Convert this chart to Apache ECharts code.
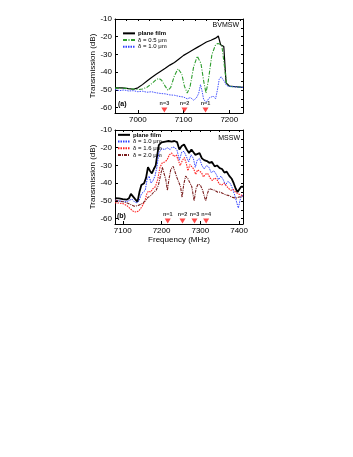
<!DOCTYPE html>
<html>
<head>
<meta charset="utf-8">
<script src="https://cdn.jsdelivr.net/npm/echarts@6/dist/echarts.min.js"></script>
<style>
html,body{margin:0;padding:0;background:#fff;}
#chart{width:353px;height:457px;}
</style>
</head>
<body>
<div id="chart"></div>
<script>
// (a) BVMSW
var bvPlaneFreq = [6950,6965,6980,6990,7000,7010,7020,7030,7040,7050,7060,7070,7080,7090,7100,7110,7120,7130,7140,7150,7160,7170,7176,7179,7181,7185,7188,7191,7193,7200,7215,7230];
var bvPlaneDb   = [-48.8,-48.8,-49.3,-49.6,-48.8,-47,-45,-43,-41.2,-39.5,-37.8,-36,-34.5,-32.5,-30.5,-29,-27.5,-26,-24.5,-23,-22,-20.8,-19.6,-19.8,-24.5,-25,-25.5,-38,-46,-47.8,-48.2,-48.6];
var bv05Freq = [6950,6970,6990,7000,7010,7020,7030,7040,7046,7052,7060,7066,7072,7080,7088,7096,7102,7108,7114,7122,7130,7138,7144,7149,7154,7162,7170,7175,7180,7184,7188,7191,7194,7200,7215,7230];
var bv05Db   = [-49,-49,-49.5,-49.8,-49.5,-48.5,-46.5,-44.2,-43.5,-44.5,-48,-50.2,-48.5,-42,-38,-41,-48,-51.7,-48.5,-37,-31,-35,-45,-51.7,-45,-30,-24.5,-23.8,-24.2,-25.5,-26,-40,-46.5,-48,-48.3,-48.6];
var bv10Freq = [6950,6960,6970,6980,6990,7000,7010,7020,7030,7040,7050,7060,7070,7080,7090,7100,7108,7115,7122,7128,7133,7137,7140,7144,7150,7156,7160,7165,7170,7174,7178,7182,7186,7190,7194,7200,7215,7230];
var bv10Db   = [-49.8,-50.4,-50,-50.6,-50.4,-51,-50.7,-51.3,-51,-51.6,-52,-52.2,-52.8,-53,-53.6,-54,-55,-54.3,-55.8,-54.5,-52,-47,-50,-55.5,-56.8,-54.5,-55.5,-53.5,-55,-50,-44,-42.5,-43,-45.5,-47.5,-48,-48.3,-48.6];
var bvModeFreq = [7058, 7102, 7148];
var bvModeText = ['n=3', 'n=2', 'n=1'];

// (b) MSSW
var msPlaneFreq = [7080,7090,7100,7110,7116,7121,7126,7132,7138,7143,7148,7155,7160,7165,7170,7175,7180,7185,7189,7193,7200,7210,7218,7226,7233,7240,7246,7252,7258,7265,7271,7277,7282,7287,7292,7298,7304,7310,7317,7323,7330,7337,7343,7350,7356,7362,7368,7375,7381,7386,7391,7396,7400,7405,7410];
var msPlaneDb   = [-48.4,-48.6,-49,-49.3,-48.5,-46,-46.5,-49,-50.5,-45,-41,-40,-37,-31,-33,-34.5,-32,-30,-24,-18.5,-17,-16.5,-16.2,-16.5,-16.2,-16.8,-21,-19,-18.2,-21,-23,-21,-21.5,-24,-23.5,-23,-26,-27,-27.5,-28.5,-28,-30.5,-30,-31.5,-32,-34,-33.5,-36,-37.5,-40,-43,-45,-44,-42,-42];
var ms10Freq = [7080,7090,7100,7110,7118,7124,7130,7136,7142,7148,7153,7158,7163,7168,7173,7178,7183,7188,7193,7200,7208,7215,7222,7228,7235,7240,7246,7252,7258,7264,7270,7276,7282,7287,7292,7298,7304,7310,7316,7322,7328,7335,7341,7347,7353,7359,7365,7371,7377,7383,7389,7394,7398,7402,7406,7410];
var ms10Db   = [-49.5,-50,-50.2,-50.5,-49.5,-49,-50.5,-51,-50,-46,-45,-44,-37.5,-36,-40,-38.5,-36,-31,-23,-20.5,-21,-20,-21,-19.5,-20,-21.5,-27,-22.5,-22,-25,-28,-24,-26,-31,-27,-26,-30,-32,-30,-31,-34,-33,-35,-38,-36,-38,-41,-39,-40,-43,-47,-51,-54,-50,-47,-47];
var ms16Freq = [7080,7090,7100,7110,7120,7128,7135,7142,7150,7157,7162,7166,7172,7178,7184,7190,7196,7202,7208,7214,7220,7226,7232,7238,7243,7248,7254,7259,7264,7268,7273,7278,7283,7288,7293,7298,7303,7308,7313,7319,7325,7331,7337,7343,7349,7355,7361,7367,7373,7379,7385,7391,7397,7403,7410];
var ms16Db   = [-51,-51.2,-51.5,-52.5,-54.5,-56,-56.3,-55.5,-53,-50,-46,-44.5,-45,-43,-42,-38,-31,-28.5,-28,-27,-24,-23,-25,-24,-24,-30,-27,-25.5,-29,-33,-29.5,-29,-32,-35,-32.5,-31.5,-34,-36.5,-35,-34.5,-37,-38.5,-37,-38,-40.5,-41,-40,-41.5,-43,-44,-43.5,-45,-46,-46.5,-47];
var ms20Freq = [7080,7090,7100,7110,7120,7130,7140,7150,7158,7165,7172,7180,7186,7192,7197,7202,7207,7211,7215,7219,7224,7230,7235,7240,7244,7249,7253,7257,7262,7268,7273,7278,7284,7289,7294,7300,7306,7311,7314,7318,7323,7330,7337,7344,7350,7357,7365,7374,7383,7392,7400,7410];
var ms20Db   = [-49.5,-50,-50.5,-51,-52,-53,-52.5,-51.5,-50,-48,-47,-45,-44,-41,-36,-31,-31.5,-38,-44,-38,-32,-30.5,-31.5,-37,-36,-42,-48,-41,-36,-37.5,-38,-42,-50,-43,-40.5,-41,-44,-48,-50,-46,-43,-43.5,-44,-45,-45,-45.7,-46.5,-47,-48,-48.4,-47.8,-47.5];
var msModeFreq = [7216, 7254, 7285, 7315];
var msModeText = ['n=1', 'n=2', 'n=3', 'n=4'];

var yTicks = [-60, -50, -40, -30, -20, -10];
var yMinor = [-60, -55, -50, -45, -40, -35, -30, -25, -20, -15, -10];
var bvTicks = [7000, 7100, 7200];
var msTicks = [7100, 7200, 7300, 7400];

function pairs(xs, ys) {
	var out = [];
	for (var i = 0; i < xs.length; i++) {
		out.push([xs[i], ys[i]]);
	}
	return out;
}
function stepTicks(min, max, step) {
	var out = [];
	for (var v = Math.ceil(min / step) * step; v <= max; v += step) out.push(v);
	return out;
}
function plain(v) { return String(v); }

var font = 'Liberation Sans, Arial, sans-serif';
var bvMin = 6950, bvMax = 7230, msMin = 7080, msMax = 7410;

function xAxes(idx, min, max, ticks, name) {
	return [{
		gridIndex: idx, type: 'value', min: min, max: max, position: 'bottom',
		splitLine: {show: false},
		axisLine: {lineStyle: {color: '#000', width: 1}},
		axisTick: {inside: true, length: 3, customValues: ticks, lineStyle: {color: '#000'}},
		axisLabel: {customValues: ticks, formatter: plain, color: '#000', fontSize: 8, fontFamily: font, margin: 3},
		name: name, nameLocation: 'middle', nameGap: 11,
		nameTextStyle: {color: '#000', fontSize: 8, fontFamily: font}
	}, {
		gridIndex: idx, type: 'value', min: min, max: max, position: 'top',
		splitLine: {show: false},
		axisLine: {lineStyle: {color: '#000', width: 1}},
		axisTick: {inside: true, length: 2, customValues: stepTicks(min, max, 25), lineStyle: {color: '#000'}},
		axisLabel: {show: false}
	}];
}
function yAxes(idx) {
	return [{
		gridIndex: idx, type: 'value', min: -63, max: -10, position: 'left',
		splitLine: {show: false},
		axisLine: {show: true, lineStyle: {color: '#000', width: 1}},
		axisTick: {show: true, inside: true, length: 3, customValues: yTicks, lineStyle: {color: '#000'}},
		axisLabel: {customValues: yTicks, formatter: plain, color: '#000', fontSize: 8, fontFamily: font, margin: 3},
		name: 'Transmission (dB)', nameLocation: 'middle', nameGap: 13,
		nameTextStyle: {color: '#000', fontSize: 8, fontFamily: font}
	}, {
		gridIndex: idx, type: 'value', min: -63, max: -10, position: 'right',
		splitLine: {show: false},
		axisLine: {show: true, lineStyle: {color: '#000', width: 1}},
		axisTick: {show: true, inside: true, length: 2, customValues: yMinor, lineStyle: {color: '#000'}},
		axisLabel: {show: false}
	}];
}

function curve(name, xi, yi, data, color, width, type) {
	return {
		name: name, type: 'line', xAxisIndex: xi, yAxisIndex: yi, data: data,
		showSymbol: false, symbol: 'none', animation: false,
		lineStyle: {color: color, width: width, type: type},
		itemStyle: {color: color}, z: 3
	};
}
function modes(xi, yi, freqs, texts) {
	var data = [];
	for (var i = 0; i < freqs.length; i++) {
		data.push({value: [freqs[i], -61.3], label: {formatter: texts[i]}});
	}
	return {
		type: 'scatter', xAxisIndex: xi, yAxisIndex: yi, data: data,
		symbol: 'triangle', symbolRotate: 180, symbolSize: [6, 5],
		itemStyle: {color: '#ff1a1a'}, animation: false, z: 5,
		label: {show: true, position: 'top', distance: 1, color: '#000', fontSize: 5.5, fontWeight: 'bold', fontFamily: font}
	};
}

var legendBase = {
	orient: 'vertical', itemGap: 0, itemWidth: 12, itemHeight: 6.7, padding: 0,
	itemStyle: {color: 'rgba(0,0,0,0)', borderColor: 'rgba(0,0,0,0)', borderWidth: 0},
	textStyle: {fontSize: 6, lineHeight: 6.7, fontFamily: font, color: '#000', padding: [0, 0, 0, -2]}
};

var myChart = echarts.init(document.getElementById('chart'));
var option = {
	backgroundColor: '#fff',
	animation: false,
	grid: [
		{left: 115, top: 19, width: 128, height: 94},
		{left: 115, top: 130, width: 128, height: 94}
	],
	xAxis: xAxes(0, bvMin, bvMax, bvTicks, '').concat(xAxes(1, msMin, msMax, msTicks, 'Frequency (MHz)')),
	yAxis: yAxes(0).concat(yAxes(1)),
	legend: [
		Object.assign({}, legendBase, {
			left: 122, top: 30,
			data: [{name: 'plane film', textStyle: {fontWeight: 'bold'}}, 'δ = 0.5 μm', 'δ = 1.0 μm']
		}),
		Object.assign({}, legendBase, {
			left: 117, top: 131.5,
			data: [{name: 'plane film ', textStyle: {fontWeight: 'bold'}}, 'δ = 1.0 μm ', 'δ = 1.6 μm', 'δ = 2.0 μm']
		})
	],
	graphic: [
		{type: 'text', right: 114, top: 22, style: {text: 'BVMSW', fontSize: 7, fontFamily: font, fill: '#000'}},
		{type: 'text', left: 118, top: 101, style: {text: '(a)', fontSize: 7, fontWeight: 'bold', fontFamily: font, fill: '#000'}},
		{type: 'text', right: 113, top: 135, style: {text: 'MSSW', fontSize: 7, fontFamily: font, fill: '#000'}},
		{type: 'text', left: 117, top: 213, style: {text: '(b)', fontSize: 7, fontWeight: 'bold', fontFamily: font, fill: '#000'}}
	],
	series: [
		curve('plane film', 0, 0, pairs(bvPlaneFreq, bvPlaneDb), '#000', 1.2, 'solid'),
		curve('δ = 0.5 μm', 0, 0, pairs(bv05Freq, bv05Db), '#2e9e2e', 1.1, [4, 1.5, 1, 1.5]),
		curve('δ = 1.0 μm', 0, 0, pairs(bv10Freq, bv10Db), '#3040ff', 0.9, [1.5, 1]),
		modes(0, 0, bvModeFreq, bvModeText),
		curve('plane film ', 2, 2, pairs(msPlaneFreq, msPlaneDb), '#000', 1.8, 'solid'),
		curve('δ = 1.0 μm ', 2, 2, pairs(ms10Freq, ms10Db), '#3040ff', 1, [1.5, 1]),
		curve('δ = 1.6 μm', 2, 2, pairs(ms16Freq, ms16Db), '#ff2020', 1.1, [1.5, 1]),
		curve('δ = 2.0 μm', 2, 2, pairs(ms20Freq, ms20Db), '#7a1f1f', 1.1, [3, 1, 1, 1]),
		modes(2, 2, msModeFreq, msModeText)
	]
};
myChart.setOption(option, true);
</script>
</body>
</html>
